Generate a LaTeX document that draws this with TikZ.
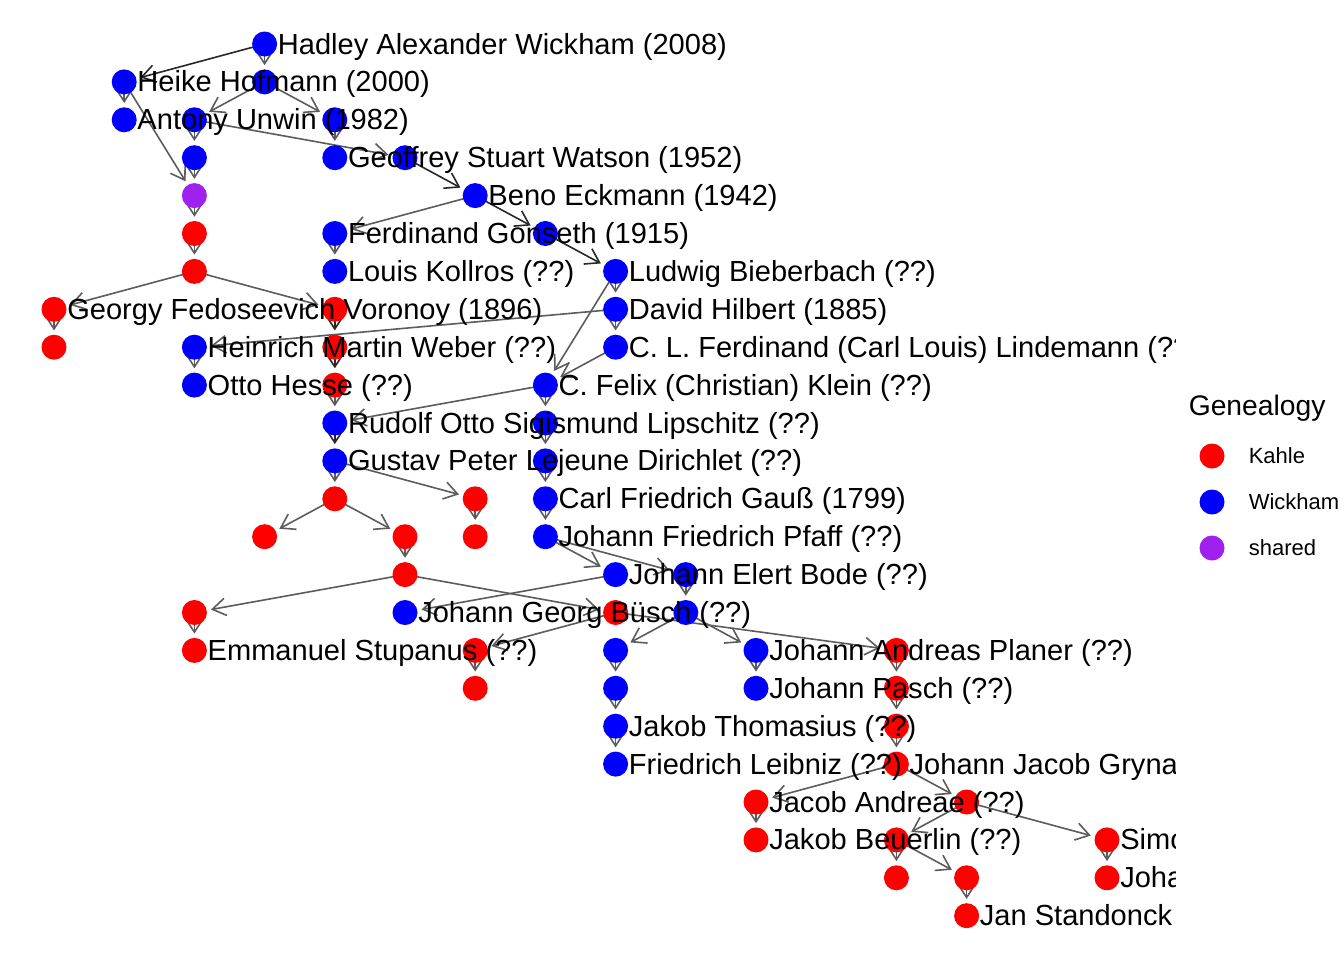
\documentclass[tikz,border=0pt]{standalone}
\usepackage{fontspec}
\setmainfont{Liberation Sans}
\usetikzlibrary{arrows.meta,backgrounds}

\definecolor{kahleRed}{RGB}{255,0,0}
\definecolor{wickhamBlue}{RGB}{0,0,255}
\definecolor{sharedPurple}{RGB}{160,32,240}
\definecolor{edgeGrey}{RGB}{92,92,92}
\definecolor{edgeDark}{RGB}{40,40,40}

\begin{document}
\begin{tikzpicture}[%%
  x=0.75pt,y=-0.75pt,
  dotStyle/.style={circle,inner sep=0pt,minimum size=18.75pt,draw=none},
  nameStyle/.style={anchor=base west,inner sep=0pt,font=\fontsize{21.8}{26}\selectfont,xshift=9.75pt,yshift=-7.5pt},
  edgeStyle/.style={-{Straight Barb[length=10pt,width=13pt]},line width=1.2pt,draw=edgeGrey,shorten >=3pt},
  darkEdge/.style={edgeStyle,draw=edgeDark},
  keyText/.style={anchor=base west,inner sep=0pt,font=\fontsize{16.5}{20}\selectfont}
]
%%
%%
\useasboundingbox (0,0) rectangle (1344,960);
\begin{scope}[on background layer]
  \fill[white] (0,0) rectangle (1344,960);
\end{scope}
%%
%% The two genealogies, on a grid of columns and rows.
\begin{scope}
\clip (0,0) rectangle (1175,960);
\begin{scope}[shift={(40.5pt,-33pt)},x=52.65pt,y=-28.425pt]
\foreach \name/\col/\row/\fillColor in {%%
  hadley/3/0/wickhamBlue, heike/1/1/wickhamBlue, w1/3/1/wickhamBlue,
  unwin/1/2/wickhamBlue, w2/2/2/wickhamBlue, w3/4/2/wickhamBlue,
  w4/2/3/wickhamBlue, watson/4/3/wickhamBlue, w5/5/3/wickhamBlue,
  shared/2/4/sharedPurple, eckmann/6/4/wickhamBlue,
  k1/2/5/kahleRed, gonseth/4/5/wickhamBlue, w6/7/5/wickhamBlue,
  k2/2/6/kahleRed, kollros/4/6/wickhamBlue, bieberbach/8/6/wickhamBlue,
  voronoy/0/7/kahleRed, k3/4/7/kahleRed, hilbert/8/7/wickhamBlue,
  k4/0/8/kahleRed, weber/2/8/wickhamBlue, k5/4/8/kahleRed, lindemann/8/8/wickhamBlue,
  hesse/2/9/wickhamBlue, k6/4/9/kahleRed, klein/7/9/wickhamBlue,
  lipschitz/4/10/wickhamBlue, w7/7/10/wickhamBlue,
  dirichlet/4/11/wickhamBlue, w8/7/11/wickhamBlue,
  k7/4/12/kahleRed, k8/6/12/kahleRed, gauss/7/12/wickhamBlue,
  k9/3/13/kahleRed, k10/5/13/kahleRed, k11/6/13/kahleRed, pfaff/7/13/wickhamBlue,
  k12/5/14/kahleRed, bode/8/14/wickhamBlue, w9/9/14/wickhamBlue,
  k13/2/15/kahleRed, buesch/5/15/wickhamBlue, k14/8/15/kahleRed, w10/9/15/wickhamBlue,
  stupanus/2/16/kahleRed, k15/6/16/kahleRed, w11/8/16/wickhamBlue,
  planer/10/16/wickhamBlue, k16/12/16/kahleRed,
  k17/6/17/kahleRed, w12/8/17/wickhamBlue, pasch/10/17/wickhamBlue, k18/12/17/kahleRed,
  thomasius/8/18/wickhamBlue, k19/12/18/kahleRed,
  leibniz/8/19/wickhamBlue, grynaeus/12/19/kahleRed,
  andreae/10/20/kahleRed, k20/13/20/kahleRed,
  beuerlin/10/21/kahleRed, k21/12/21/kahleRed, simon/15/21/kahleRed,
  k22/12/22/kahleRed, k23/13/22/kahleRed, johann/15/22/kahleRed,
  standonck/13/23/kahleRed}
  \node[dotStyle,fill=\fillColor] (\name) at (\col,\row) {};
\end{scope}
%%
%% Names beside the dots.
\foreach \name/\nameText in {%%
  hadley/{Hadley Alexander Wickham (2008)}, heike/{Heike Hofmann (2000)},
  unwin/{Antony Unwin (1982)}, watson/{Geoffrey Stuart Watson (1952)},
  eckmann/{Beno Eckmann (1942)}, gonseth/{Ferdinand Gonseth (1915)},
  kollros/{Louis Kollros (??)}, bieberbach/{Ludwig Bieberbach (??)},
  voronoy/{Georgy Fedoseevich Voronoy (1896)}, hilbert/{David Hilbert (1885)},
  weber/{Heinrich Martin Weber (??)},
  lindemann/{C. L. Ferdinand (Carl Louis) Lindemann (??)},
  hesse/{Otto Hesse (??)}, klein/{C. Felix (Christian) Klein (??)},
  lipschitz/{Rudolf Otto Sigismund Lipschitz (??)},
  dirichlet/{Gustav Peter Lejeune Dirichlet (??)},
  gauss/{Carl Friedrich Gauß (1799)}, pfaff/{Johann Friedrich Pfaff (??)},
  bode/{Johann Elert Bode (??)}, buesch/{Johann Georg Büsch (??)},
  stupanus/{Emmanuel Stupanus (??)}, planer/{Johann Andreas Planer (??)},
  pasch/{Johann Pasch (??)}, thomasius/{Jakob Thomasius (??)},
  leibniz/{Friedrich Leibniz (??)}, grynaeus/{Johann Jacob Grynaeus (??)},
  andreae/{Jacob Andreae (??)}, beuerlin/{Jakob Beuerlin (??)},
  simon/{Simon}, johann/{Johann}, standonck/{Jan Standonck}}
  \node[nameStyle] at (\name) {\nameText};
\end{scope}
%%
%% Student to advisor, from the centre of the student's dot.
\begin{scope}[on background layer]
\foreach \from/\to in {%%
  hadley/w1, heike/unwin, heike/shared, w1/w2, w1/w3, w2/w4, w2/w5,
  w3/watson, w4/shared, shared/k1, k1/k2, k2/voronoy, k2/k3,
  eckmann/gonseth, gonseth/kollros, bieberbach/hilbert, bieberbach/klein,
  hilbert/lindemann, hilbert/weber, voronoy/k4, k6/lipschitz,
  weber/hesse, lindemann/klein, klein/w7, klein/lipschitz,
  w7/w8, w8/gauss, gauss/pfaff, dirichlet/k7, dirichlet/k8,
  k7/k9, k7/k10, k8/k11, k10/k12, k12/k13, k12/k14, k13/stupanus,
  k14/k15, k14/k16, k15/k17, pfaff/bode, pfaff/w9, bode/buesch,
  w9/w10, w10/w11, w10/planer, w11/w12, w12/thomasius, thomasius/leibniz,
  planer/pasch, k16/k18, k18/k19, k19/grynaeus, grynaeus/andreae,
  grynaeus/k20, andreae/beuerlin, k20/k21, k20/simon, k21/k22, k21/k23,
  k23/standonck, simon/johann}
  \draw[edgeStyle] (\from.center) -- (\to);
\foreach \from/\to in {%%
  hadley/heike, w5/eckmann, eckmann/w6, w6/bieberbach,
  k3/k5, k5/k6, lipschitz/dirichlet}
  \draw[darkEdge] (\from.center) -- (\to);
\end{scope}
%%
%% Legend.
\node[anchor=base west,inner sep=0pt,font=\fontsize{21.2}{25}\selectfont] (legendTitle) at (1188.5,415) {Genealogy};
\node[dotStyle,fill=kahleRed] (keyKahle) at (1212,456) {};
\node[dotStyle,fill=wickhamBlue] (keyWickham) at (1212,502) {};
\node[dotStyle,fill=sharedPurple] (keyShared) at (1212,548) {};
\node[keyText] at (1248.5,463) {Kahle};
\node[keyText] at (1248.5,509) {Wickham};
\node[keyText] at (1248.5,555) {shared};
\end{tikzpicture}
\end{document}
